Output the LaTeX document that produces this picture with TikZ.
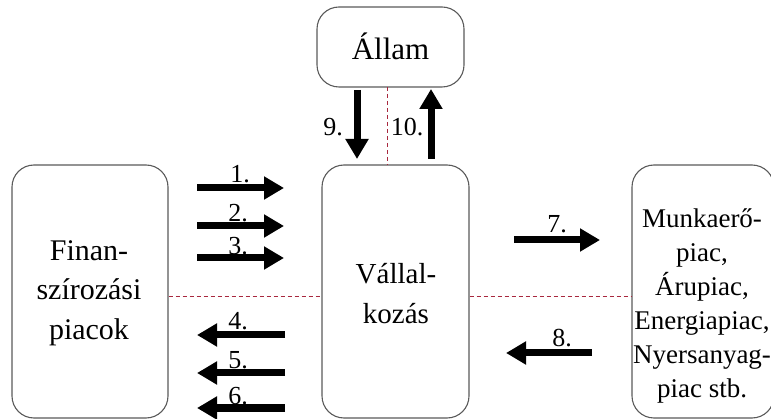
\documentclass[tikz,border=0pt]{standalone}
\usepackage{fontspec}
\setmainfont{Liberation Serif}
\usetikzlibrary{arrows.meta}

\definecolor{boxgray}{HTML}{5A5A5A}
\definecolor{sepred}{HTML}{A8283E}

\begin{document}
\begin{tikzpicture}[x=1pt,y=-1pt,
  box/.style={draw=boxgray, line width=1.1pt, rounded corners=22pt, fill=white,
    inner sep=0pt},
  boxtext/.style={align=center, inner sep=0pt},
  flow/.style={line width=7pt, -{Triangle[length=20pt,width=22pt]}},
  num/.style={inner sep=0pt, font=\fontsize{26}{26}\selectfont},
  sep/.style={draw=sepred, line width=1pt, dash pattern=on 4.5pt off 2.5pt}]

\clip (0,0) rectangle (771,419);

% the four actors
\node[box, minimum width=156pt, minimum height=253pt] (fin) at (90,291.5) {};
\node[box, minimum width=147pt, minimum height=253pt] (vall) at (395.5,291.5) {};
\node[box, minimum width=147pt, minimum height=80pt] (allam) at (390.5,47) {};
\node[box, minimum width=142pt, minimum height=253pt] (piac) at (703,291.5) {};

\node[boxtext, font=\fontsize{30}{39.5}\selectfont] (fintxt) at (89,293)
  {Finan-\\szírozási\\piacok};
\node[boxtext, font=\fontsize{29}{40}\selectfont] (valltxt) at (396,294)
  {Vállal-\\kozás};
\node[boxtext, font=\fontsize{31}{36}\selectfont] (allamtxt) at (390.5,46)
  {Állam};
\node[boxtext, font=\fontsize{27}{34}\selectfont] (piactxt) at (702,306)
  {Munkaerő-\\piac,\\Árupiac,\\Energiapiac,\\Nyersanyag-\\piac stb.};

% dashed separators
\coordinate (vtop) at (387,87);
\coordinate (vbot) at (387,165);
\draw[sep] (vtop) -- (vbot);
\draw[sep] (fin.east |- 0,297) -- (vall.west |- 0,297);
\draw[sep] (vall.east |- 0,297) -- (piac.west |- 0,297);

% flow numbers
\node[num] (n1) at (240,174) {1.};
\node[num] (n2) at (238,213) {2.};
\node[num] (n3) at (238,246) {3.};
\node[num] (n4) at (238,321) {4.};
\node[num] (n5) at (238,360) {5.};
\node[num] (n6) at (238,396) {6.};
\node[num] (n7) at (557,224) {7.};
\node[num] (n8) at (562,338) {8.};
\node[num] (n9) at (333,127) {9.};
\node[num] (n10) at (407,127) {10.};

% flow end points
\coordinate (a1s) at (197,188); \coordinate (a1e) at (284,188);
\coordinate (a2s) at (197,226); \coordinate (a2e) at (284,226);
\coordinate (a3s) at (197,258); \coordinate (a3e) at (284,258);
\coordinate (a4s) at (285,335); \coordinate (a4e) at (197,335);
\coordinate (a5s) at (285,373); \coordinate (a5e) at (197,373);
\coordinate (a6s) at (285,408); \coordinate (a6e) at (197,408);
\coordinate (a7s) at (514,240); \coordinate (a7e) at (600,240);
\coordinate (a8s) at (592,353); \coordinate (a8e) at (506,353);
\coordinate (a9s) at (357,90);  \coordinate (a9e) at (357,159);
\coordinate (a10s) at (431,159); \coordinate (a10e) at (431,89);

% flows
\foreach \i in {1,...,10} {
  \draw[flow] (a\i s) -- (a\i e);
}
\end{tikzpicture}
\end{document}
